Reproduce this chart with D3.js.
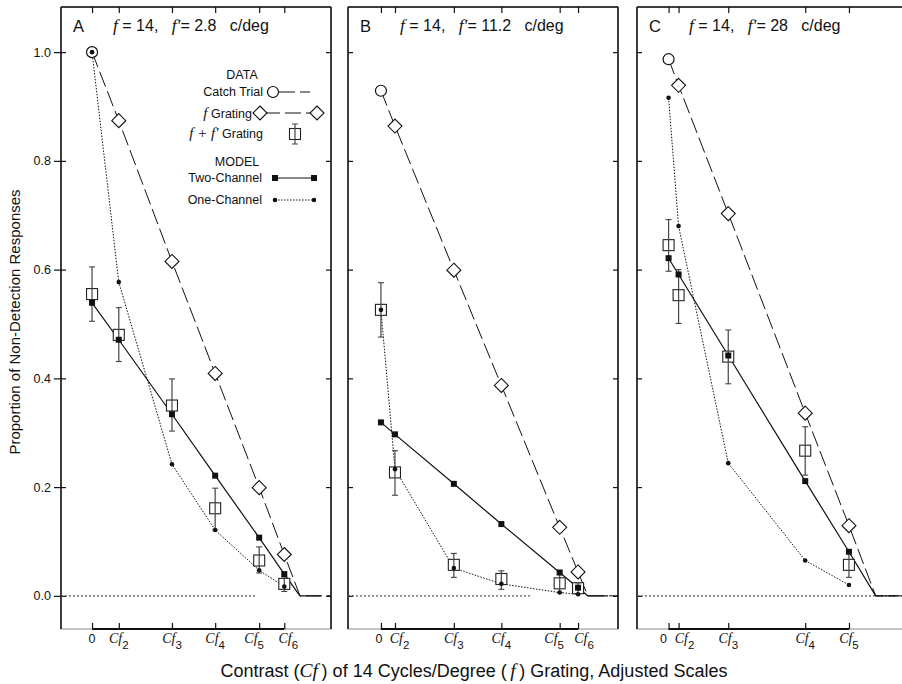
<!DOCTYPE html>
<html>
<head>
<meta charset="utf-8">
<script src="https://cdn.jsdelivr.net/npm/d3@7"></script>
<style>
  body { margin: 0; background: #fff; }
  text { font-family: "Liberation Sans", Arial, sans-serif; fill: #111; white-space: pre; }
  .it { font-family: "Liberation Serif", "Times New Roman", serif; font-style: italic; }
</style>
</head>
<body>
<svg id="chart" width="902" height="684"></svg>
<script>
// ---- data ----
// x positions are in adjusted contrast units (0 = catch trial / zero contrast)
const panelIds = ["A", "B", "C"];
const fPrime = ["2.8", "11.2", "28"];

const ticksA = [0, 0.99, 2.96, 4.56, 6.19, 7.12];
const ticksB = [0, 0.52, 2.70, 4.46, 6.62, 7.30];
const ticksC = [0, 0.37, 2.21, 5.06, 6.68];
const tickSubsA = ["", "2", "3", "4", "5", "6"];
const tickSubsB = ["", "2", "3", "4", "5", "6"];
const tickSubsC = ["", "2", "3", "4", "5"];

// catch trial (contrast 0)
const catchTrial = [1.0, 0.929, 0.987];

// f grating alone (from Cf2 on)
const fGratingA = [0.874, 0.615, 0.409, 0.199, 0.076];
const fGratingB = [0.864, 0.599, 0.387, 0.126, 0.044];
const fGratingC = [0.939, 0.703, 0.336, 0.129];

// f + f' grating, with error bars
const ffA = [0.555, 0.480, 0.350, 0.161, 0.065, 0.022];
const ffHiA = [0.605, 0.530, 0.399, 0.198, 0.090, 0.035];
const ffLoA = [0.505, 0.431, 0.303, 0.121, 0.042, 0.008];
const ffB = [0.526, 0.227, 0.057, 0.031, 0.023, 0.014];
const ffHiB = [0.576, 0.267, 0.078, 0.046, 0.039, 0.024];
const ffLoB = [0.476, 0.185, 0.034, 0.012, 0.006, 0.004];
const ffC = [0.645, 0.553, 0.440, 0.267, 0.057];
const ffHiC = [0.692, 0.600, 0.489, 0.311, 0.080];
const ffLoC = [0.597, 0.501, 0.390, 0.222, 0.034];

// model predictions
const twoChA = [0.539, 0.471, 0.334, 0.221, 0.107, 0.040];
const twoChB = [0.319, 0.297, 0.206, 0.132, 0.043, 0.015];
const twoChC = [0.621, 0.591, 0.442, 0.211, 0.081];
const oneChA = [1.0, 0.577, 0.242, 0.121, 0.047, 0.017];
const oneChB = [0.526, 0.233, 0.051, 0.022, 0.006, 0.003];
const oneChC = [0.916, 0.680, 0.244, 0.065, 0.020];

// where curves reach zero, where the dotted zero line stops, x domain start
const zeroAt = [7.70, 7.66, 7.67];
const zeroLineEnd = [6.11, 5.59, 8.83];
const domainLo = [-1.15, -1.22, -1.17];

const yTicks = [0, 0.2, 0.4, 0.6, 0.8, 1.0];

// ---- layout ----
const panelW = 270;
const plotTop = 7, plotBottom = 629;
const lefts = [61, 348, 637];
// small horizontal nudges for crowded tick labels (px)
const nudgeA = [0, 0, 0, 0, -5, 4];
const nudgeB = [-2, 4.5, 0, 0, -5.5, 6];
const nudgeC = [-5, 6, 0, 0, 0];

const panels = [
  { ticks: ticksA, subs: tickSubsA, nudge: nudgeA, fg: fGratingA, ff: ffA, hi: ffHiA, lo: ffLoA, two: twoChA, one: oneChA },
  { ticks: ticksB, subs: tickSubsB, nudge: nudgeB, fg: fGratingB, ff: ffB, hi: ffHiB, lo: ffLoB, two: twoChB, one: oneChB },
  { ticks: ticksC, subs: tickSubsC, nudge: nudgeC, fg: fGratingC, ff: ffC, hi: ffHiC, lo: ffLoC, two: twoChC, one: oneChC }
];

const svg = d3.select("#chart");
const y = d3.scaleLinear().domain([-0.061, 1.083]).range([plotBottom, plotTop]);

const diamond = r => `M0,${-r}L${r},0L0,${r}L${-r},0Z`;
const ink = "#111";

panels.forEach((p, i) => {
  const x0 = lefts[i];
  const x = d3.scaleLinear().domain([domainLo[i], domainLo[i] + 10]).range([x0, x0 + panelW]);
  const xEnd = domainLo[i] + 10;
  const g = svg.append("g");
  const line = d3.line().x(d => x(d[0])).y(d => y(d[1]));

  // frame
  g.append("rect").attr("x", x0).attr("y", plotTop).attr("width", panelW).attr("height", plotBottom - plotTop)
    .attr("fill", "none").attr("stroke", "#888").attr("stroke-width", 1);
  g.append("line").attr("x1", x0).attr("x2", x0 + panelW).attr("y1", plotTop).attr("y2", plotTop)
    .attr("stroke", ink).attr("stroke-width", 1.5);
  g.append("line").attr("x1", x0).attr("x2", x0).attr("y1", plotTop).attr("y2", plotBottom)
    .attr("stroke", ink).attr("stroke-width", 1.5);
  g.append("line").attr("x1", x0 + panelW).attr("x2", x0 + panelW).attr("y1", plotTop).attr("y2", plotBottom)
    .attr("stroke", ink).attr("stroke-width", 1.5);
  g.append("line").attr("x1", x(p.ticks[0])).attr("x2", x(p.ticks[p.ticks.length - 1]))
    .attr("y1", plotBottom).attr("y2", plotBottom).attr("stroke", ink).attr("stroke-width", 2);

  // y ticks (inward on both sides)
  g.append("g").attr("transform", `translate(${x0},0)`)
    .call(d3.axisRight(y).tickValues(yTicks).tickSize(5).tickFormat(""))
    .call(a => a.select(".domain").remove());
  g.append("g").attr("transform", `translate(${x0 + panelW},0)`)
    .call(d3.axisLeft(y).tickValues(yTicks).tickSize(5).tickFormat(""))
    .call(a => a.select(".domain").remove());
  if (i === 0) {
    g.append("g").attr("transform", `translate(${x0},0)`)
      .call(d3.axisLeft(y).tickValues(yTicks).tickSize(7).tickPadding(3).tickFormat(d3.format(".1f")))
      .call(a => a.select(".domain").remove())
      .call(a => a.selectAll("text").attr("font-size", 12.5).attr("font-family", null).attr("fill", ink));
  }
  // x ticks (inward, top and bottom)
  g.append("g").attr("transform", `translate(0,${plotTop})`)
    .call(d3.axisBottom(x).tickValues(p.ticks).tickSize(6).tickFormat(""))
    .call(a => a.select(".domain").remove());
  g.append("g").attr("transform", `translate(0,${plotBottom})`)
    .call(d3.axisTop(x).tickValues(p.ticks).tickSize(6).tickFormat(""))
    .call(a => a.select(".domain").remove());
  g.selectAll(".tick line").attr("stroke", ink).attr("stroke-width", 1.2);

  // x tick labels
  p.ticks.forEach((t, k) => {
    const tx = g.append("text").attr("x", x(t) + p.nudge[k]).attr("y", 643).attr("text-anchor", "middle");
    if (k === 0) {
      tx.attr("font-size", 12.5).text("0");
    } else {
      tx.append("tspan").attr("class", "it").attr("font-size", 14).text("Cf");
      tx.append("tspan").attr("font-size", 11.5).attr("dy", 6).text(p.subs[k]);
    }
  });

  // panel letter and title
  g.append("text").attr("x", x0 + 12).attr("y", 32).attr("font-size", 16.5).text(panelIds[i]);
  const tt = g.append("text").attr("x", x0 + 52).attr("y", 31).attr("font-size", 16);
  tt.append("tspan").attr("class", "it").attr("font-size", 17.5).text("f");
  tt.append("tspan").text(" = 14,   ");
  tt.append("tspan").attr("class", "it").attr("font-size", 17.5).text("f\u2032");
  tt.append("tspan").text("= " + fPrime[i] + "   c/deg");

  // dotted zero reference
  g.append("path").attr("d", line([[domainLo[i], 0], [zeroLineEnd[i], 0]]))
    .attr("fill", "none").attr("stroke", "#555").attr("stroke-width", 1.2).attr("stroke-dasharray", "2,2");

  // f grating dashed curve (starts at catch trial)
  const fgPts = [[0, catchTrial[i]]].concat(p.fg.map((v, k) => [p.ticks[k + 1], v]), [[zeroAt[i], 0], [xEnd, 0]]);
  g.append("path").attr("d", line(fgPts)).attr("fill", "none").attr("stroke", ink)
    .attr("stroke-width", 1).attr("stroke-dasharray", "16,5");

  // one-channel dotted curve
  const onePts = p.one.map((v, k) => [p.ticks[k], v]);
  g.append("path").attr("d", line(onePts)).attr("fill", "none").attr("stroke", ink)
    .attr("stroke-width", 1).attr("stroke-dasharray", "1.5,1.5");

  // two-channel solid curve
  const twoPts = p.two.map((v, k) => [p.ticks[k], v]).concat([[zeroAt[i], 0], [xEnd - 0.37, 0]]);
  g.append("path").attr("d", line(twoPts)).attr("fill", "none").attr("stroke", ink).attr("stroke-width", 1.2);

  // catch trial circle
  g.append("circle").attr("cx", x(0)).attr("cy", y(catchTrial[i])).attr("r", 5.5)
    .attr("fill", "#fff").attr("stroke", ink).attr("stroke-width", 1.2);
  // f grating diamonds
  g.selectAll(".fg").data(p.fg).enter().append("path")
    .attr("transform", (d, k) => `translate(${x(p.ticks[k + 1])},${y(d)})`)
    .attr("d", diamond(7)).attr("fill", "#fff").attr("stroke", ink).attr("stroke-width", 1.1);
  // f + f' squares with error bars
  g.selectAll(".ff").data(p.ff).enter().append("rect")
    .attr("x", (d, k) => x(p.ticks[k]) - 5.5).attr("y", d => y(d) - 5.5)
    .attr("width", 11).attr("height", 11).attr("fill", "#fff").attr("stroke", "#222").attr("stroke-width", 1.1);
  p.ff.forEach((d, k) => {
    const cx = x(p.ticks[k]);
    g.append("line").attr("x1", cx).attr("x2", cx).attr("y1", y(p.hi[k])).attr("y2", y(p.lo[k]))
      .attr("stroke", "#444").attr("stroke-width", 1.2);
    [p.hi[k], p.lo[k]].forEach(v => g.append("line").attr("x1", cx - 3).attr("x2", cx + 3)
      .attr("y1", y(v)).attr("y2", y(v)).attr("stroke", "#444").attr("stroke-width", 1.1));
  });
  // two-channel filled squares
  g.selectAll(".two").data(p.two).enter().append("rect")
    .attr("x", (d, k) => x(p.ticks[k]) - 3).attr("y", d => y(d) - 3)
    .attr("width", 6).attr("height", 6).attr("fill", ink);
  // one-channel dots
  g.selectAll(".one").data(p.one).enter().append("circle")
    .attr("cx", (d, k) => x(p.ticks[k])).attr("cy", d => y(d)).attr("r", 2.3).attr("fill", ink);
});

// ---- legend in panel A ----
const lg = svg.append("g");
const lt = (tx, ty, s, anchor) => lg.append("text").attr("x", tx).attr("y", ty)
  .attr("font-size", 12.5).attr("text-anchor", anchor || "end").text(s);
lt(242, 79, "DATA", "middle");
lt(263, 96, "Catch Trial");
const fgLabel = lg.append("text").attr("x", 252).attr("y", 118).attr("font-size", 12.5).attr("text-anchor", "end");
fgLabel.append("tspan").attr("class", "it").attr("font-size", 15).text("f");
fgLabel.append("tspan").text(" Grating");
const ffLabel = lg.append("text").attr("x", 263).attr("y", 138).attr("font-size", 12.5).attr("text-anchor", "end");
ffLabel.append("tspan").attr("class", "it").attr("font-size", 15).text("f + f\u2032");
ffLabel.append("tspan").text(" Grating");
lt(237, 166, "MODEL", "middle");
lt(262, 182, "Two-Channel");
lt(262, 204, "One-Channel");

lg.append("line").attr("x1", 279).attr("x2", 310).attr("y1", 92).attr("y2", 92)
  .attr("stroke", ink).attr("stroke-dasharray", "16,5");
lg.append("circle").attr("cx", 273).attr("cy", 92).attr("r", 5.5).attr("fill", "#fff").attr("stroke", ink).attr("stroke-width", 1.2);
lg.append("line").attr("x1", 260).attr("x2", 317).attr("y1", 113).attr("y2", 113)
  .attr("stroke", ink).attr("stroke-dasharray", "16,5").attr("stroke-dashoffset", -4);
[260, 317].forEach(cx => lg.append("path").attr("transform", `translate(${cx},113)`)
  .attr("d", diamond(7)).attr("fill", "#fff").attr("stroke", ink).attr("stroke-width", 1.1));
lg.append("rect").attr("x", 289.5).attr("y", 128.5).attr("width", 11).attr("height", 11)
  .attr("fill", "#fff").attr("stroke", "#222").attr("stroke-width", 1.1);
lg.append("line").attr("x1", 295).attr("x2", 295).attr("y1", 124).attr("y2", 144).attr("stroke", "#444").attr("stroke-width", 1.2);
[124, 144].forEach(v => lg.append("line").attr("x1", 292).attr("x2", 298).attr("y1", v).attr("y2", v).attr("stroke", "#444"));
lg.append("line").attr("x1", 275).attr("x2", 314).attr("y1", 178).attr("y2", 178).attr("stroke", ink).attr("stroke-width", 1.2);
[275, 314].forEach(cx => lg.append("rect").attr("x", cx - 3).attr("y", 175).attr("width", 6).attr("height", 6).attr("fill", ink));
lg.append("line").attr("x1", 275).attr("x2", 314).attr("y1", 200).attr("y2", 200)
  .attr("stroke", ink).attr("stroke-dasharray", "1.5,1.5");
[275, 314].forEach(cx => lg.append("circle").attr("cx", cx).attr("cy", 200).attr("r", 2.3).attr("fill", ink));

// ---- axis titles ----
svg.append("text").attr("transform", "translate(20,322) rotate(-90)").attr("text-anchor", "middle")
  .attr("font-size", 15).text("Proportion of Non-Detection Responses");
const xt = svg.append("text").attr("x", 474).attr("y", 677).attr("text-anchor", "middle").attr("font-size", 18);
xt.append("tspan").text("Contrast (");
xt.append("tspan").attr("class", "it").attr("font-size", 19.5).text("Cf");
xt.append("tspan").text("\u2009) of 14 Cycles/Degree (\u2009");
xt.append("tspan").attr("class", "it").attr("font-size", 19.5).text("f");
xt.append("tspan").text("\u2009) Grating, Adjusted Scales");
</script>
</body>
</html>
